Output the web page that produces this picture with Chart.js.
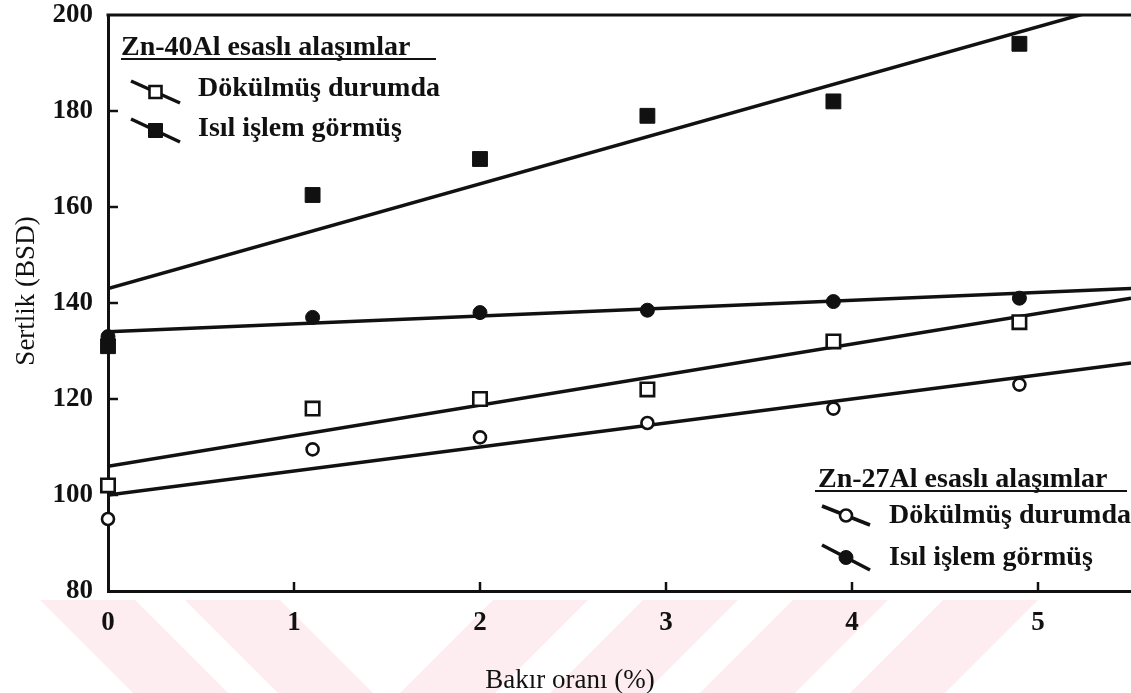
<!DOCTYPE html>
<html><head><meta charset="utf-8">
<script src="https://cdn.jsdelivr.net/npm/chart.js@4.4.0/dist/chart.umd.min.js"></script>
<style>html,body{margin:0;padding:0;background:#fff;overflow:hidden}#wrap{width:1131px;height:693px;position:relative}</style>
</head><body><div id="wrap"><canvas id="c" width="1131" height="693"></canvas></div>
<script>
// ---- data ----
const cuPercent = [0, 1.1, 2.0, 2.9, 3.9, 4.9];
const zn40Cast = [102, 118, 120, 122, 132, 136];
const zn40Heat = [131, 162.5, 170, 179, 182, 194];
const zn27Cast = [95, 109.5, 112, 115, 118, 123];
const zn27Heat = [133, 137, 138, 138.5, 140.3, 141];
// fitted straight lines: value at x = 0 and at x = 5.5
const fitX = [0, 5.5];
const zn40HeatFit = [143, 203];
const zn40CastFit = [106, 141];
const zn27HeatFit = [134, 143];
const zn27CastFit = [100, 127.5];
const xTicks = [0, 1, 2, 3, 4, 5];
const yTicks = [80, 100, 120, 140, 160, 180, 200];
const xTitle = 'Bakır oranı (%)';
const yTitle = 'Sertlik (BSD)';
const legend40Title = 'Zn-40Al esaslı alaşımlar';
const legend27Title = 'Zn-27Al esaslı alaşımlar';
const legendCast = 'Dökülmüş durumda';
const legendHeat = 'Isıl işlem görmüş';

const INK = '#111';
const SERIF = '"Liberation Serif", "Times New Roman", serif';

function pts(xs, ys) { return xs.map((x, i) => ({x: x, y: ys[i]})); }

function fitDs(ys) {
  return {type: 'line', data: pts(fitX, ys), borderColor: INK, borderWidth: 3.5,
          pointRadius: 0, fill: false, tension: 0, clip: 0, order: 2};
}
function markDs(ys, style, filled, r) {
  return {type: 'scatter', data: pts(cuPercent, ys), showLine: false, pointStyle: style,
          pointRadius: r, pointHoverRadius: r, borderColor: INK, borderWidth: filled ? 1 : 2.6,
          backgroundColor: filled ? INK : '#fff', clip: false, order: 1};
}

function drawMarker(ctx, x, y, style, filled) {
  ctx.save();
  ctx.lineWidth = filled ? 1 : 2.6;
  ctx.strokeStyle = INK;
  ctx.fillStyle = filled ? INK : '#fff';
  ctx.beginPath();
  if (style === 'rect') { const s = filled ? 7 : 6; ctx.rect(x - s, y - s, 2 * s, 2 * s); }
  else { ctx.arc(x, y, filled ? 7 : 6, 0, Math.PI * 2); }
  ctx.fill(); ctx.stroke();
  ctx.restore();
}

function noPad(s) { s.paddingTop = 0; s.paddingBottom = 0; s.paddingLeft = 0; s.paddingRight = 0; }

const deco = {
  id: 'deco',
  beforeDraw(chart) {
    const ctx = chart.ctx;
    ctx.save();
    ctx.fillStyle = '#fff';
    ctx.fillRect(0, 0, chart.width, chart.height);
    // faint watermark bands at the bottom
    ctx.fillStyle = '#fdedf0';
    const y0 = 600, y1 = 693, d = y1 - y0;
    [40, 185].forEach(x0 => {
      ctx.beginPath();
      ctx.moveTo(x0, y0); ctx.lineTo(x0 + 95, y0); ctx.lineTo(x0 + 95 + d, y1); ctx.lineTo(x0 + d, y1);
      ctx.closePath(); ctx.fill();
    });
    [400, 550, 700, 850].forEach(x0 => {
      ctx.beginPath();
      ctx.moveTo(x0, y1); ctx.lineTo(x0 + 95, y1); ctx.lineTo(x0 + 95 + d, y0); ctx.lineTo(x0 + d, y0);
      ctx.closePath(); ctx.fill();
    });
    ctx.restore();
  },
  afterDraw(chart) {
    const ctx = chart.ctx, a = chart.chartArea;
    const xs = chart.scales.x, ys = chart.scales.y;
    ctx.save();
    ctx.strokeStyle = INK;
    // top frame line
    ctx.lineWidth = 3;
    ctx.beginPath(); ctx.moveTo(a.left - 1.5, a.top); ctx.lineTo(chart.width, a.top); ctx.stroke();
    // inward tick marks
    ctx.lineWidth = 2.5;
    yTicks.forEach(v => {
      if (v === 80 || v === 200) return;
      const p = ys.getPixelForValue(v);
      ctx.beginPath(); ctx.moveTo(a.left, p); ctx.lineTo(a.left + 10, p); ctx.stroke();
    });
    xTicks.forEach(v => {
      if (v === 0) return;
      const p = xs.getPixelForValue(v);
      ctx.beginPath(); ctx.moveTo(p, a.bottom); ctx.lineTo(p, a.bottom - 9); ctx.stroke();
    });
    // axis titles
    ctx.fillStyle = INK;
    ctx.font = '27px ' + SERIF;
    ctx.textAlign = 'center'; ctx.textBaseline = 'middle';
    ctx.fillText(xTitle, 570, 681);
    ctx.save();
    ctx.translate(27, 291); ctx.rotate(-Math.PI / 2);
    ctx.fillText(yTitle, 0, 0);
    ctx.restore();

    // legends
    ctx.font = 'bold 28px ' + SERIF;
    ctx.textAlign = 'left'; ctx.textBaseline = 'alphabetic';
    function block(tx, ty, ulx0, ulx1, items) {
      ctx.fillText(tx.text, tx.x, ty);
      ctx.lineWidth = 2;
      ctx.beginPath(); ctx.moveTo(ulx0, ty + 4); ctx.lineTo(ulx1, ty + 4); ctx.stroke();
      items.forEach(it => {
        ctx.lineWidth = 3.5;
        ctx.beginPath(); ctx.moveTo(it.sx0, it.sy0); ctx.lineTo(it.sx1, it.sy1); ctx.stroke();
        drawMarker(ctx, (it.sx0 + it.sx1) / 2, (it.sy0 + it.sy1) / 2, it.style, it.filled);
        ctx.textBaseline = 'middle';
        ctx.fillText(it.text, it.tx, it.ty);
        ctx.textBaseline = 'alphabetic';
      });
    }
    block({text: legend40Title, x: 121}, 55, 121, 436, [
      {sx0: 131, sy0: 81, sx1: 180, sy1: 103, style: 'rect', filled: false, text: legendCast, tx: 198, ty: 89},
      {sx0: 131, sy0: 119, sx1: 180, sy1: 142, style: 'rect', filled: true, text: legendHeat, tx: 198, ty: 129}
    ]);
    block({text: legend27Title, x: 818}, 487, 815, 1127, [
      {sx0: 822, sy0: 506, sx1: 870, sy1: 525, style: 'circle', filled: false, text: legendCast, tx: 889, ty: 516},
      {sx0: 822, sy0: 545, sx1: 870, sy1: 570, style: 'circle', filled: true, text: legendHeat, tx: 889, ty: 558}
    ]);
    ctx.restore();
  }
};

new Chart(document.getElementById('c'), {
  type: 'scatter',
  data: {
    datasets: [
      fitDs(zn40HeatFit), fitDs(zn40CastFit), fitDs(zn27HeatFit), fitDs(zn27CastFit),
      markDs(zn40Cast, 'rect', false, 9.5),
      markDs(zn40Heat, 'rect', true, 10.5),
      markDs(zn27Cast, 'circle', false, 6),
      markDs(zn27Heat, 'circle', true, 7)
    ]
  },
  options: {
    responsive: false,
    animation: false,
    events: [],
    layout: {autoPadding: false, padding: {top: 15, right: 0, bottom: 0, left: 0}},
    plugins: {legend: {display: false}, tooltip: {enabled: false}, title: {display: false}},
    scales: {
      x: {
        type: 'linear', min: 0, max: 5.5,
        afterBuildTicks: s => { s.ticks = xTicks.map(v => ({value: v})); },
        afterFit: s => { s.height = 102; noPad(s); },
        grid: {display: true, drawOnChartArea: false, drawTicks: false},
        border: {display: true, color: INK, width: 3},
        ticks: {color: INK, padding: 16, font: {family: SERIF, size: 27, weight: 'bold'}}
      },
      y: {
        type: 'linear', min: 80, max: 200,
        afterBuildTicks: s => { s.ticks = yTicks.map(v => ({value: v})); },
        afterFit: s => { s.width = 108; noPad(s); },
        grid: {display: true, drawOnChartArea: false, drawTicks: false},
        border: {display: true, color: INK, width: 3},
        ticks: {color: INK, padding: 15, font: {family: SERIF, size: 27, weight: 'bold'}}
      }
    }
  },
  plugins: [deco]
});
</script>
</body></html>
